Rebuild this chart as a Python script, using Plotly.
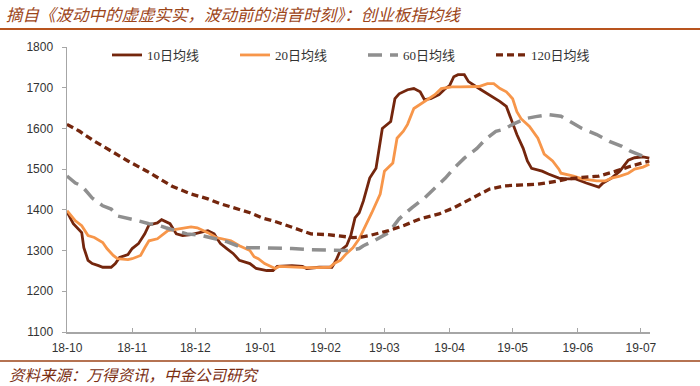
import plotly.graph_objects as go

# ---------------- data ----------------
d10 = ["2018-10-01","2018-10-04","2018-10-08","2018-10-09","2018-10-11","2018-10-13","2018-10-16","2018-10-18",
       "2018-10-22","2018-10-24","2018-10-26","2018-10-30","2018-11-01","2018-11-04","2018-11-07","2018-11-09",
       "2018-11-13","2018-11-15","2018-11-19","2018-11-22","2018-11-25","2018-11-29","2018-12-03","2018-12-07",
       "2018-12-10","2018-12-13","2018-12-16","2018-12-19","2018-12-22","2018-12-27","2018-12-30","2019-01-04",
       "2019-01-07","2019-01-09","2019-01-16","2019-01-21","2019-01-23","2019-01-29","2019-02-04","2019-02-06",
       "2019-02-08","2019-02-11","2019-02-13","2019-02-15","2019-02-17","2019-02-19","2019-02-22","2019-02-25",
       "2019-02-28","2019-03-04","2019-03-06","2019-03-08","2019-03-12","2019-03-15","2019-03-18","2019-03-20",
       "2019-03-23","2019-03-27","2019-03-30","2019-04-01","2019-04-03","2019-04-05","2019-04-08","2019-04-10",
       "2019-04-15","2019-04-20","2019-04-25","2019-04-28","2019-05-01","2019-05-03","2019-05-06","2019-05-08",
       "2019-05-10","2019-05-15","2019-05-18","2019-05-23","2019-05-27","2019-05-31","2019-06-05","2019-06-11",
       "2019-06-13","2019-06-17","2019-06-21","2019-06-25","2019-06-28","2019-07-02","2019-07-05"]
v10 = [1395,1366,1344,1307,1276,1268,1263,1259,
       1259,1268,1283,1290,1305,1317,1341,1363,
       1368,1376,1366,1341,1337,1339,1344,1349,
       1341,1317,1305,1293,1276,1268,1256,1251,
       1251,1261,1263,1261,1256,1259,1259,1276,
       1300,1312,1337,1380,1393,1422,1478,1502,
       1600,1617,1673,1685,1695,1698,1690,1671,
       1673,1683,1698,1705,1727,1732,1732,1715,
       1698,1683,1666,1654,1610,1585,1551,1520,
       1502,1495,1488,1478,1476,1476,1466,1456,
       1466,1478,1495,1522,1528,1530,1527]

d20 = ["2018-10-01","2018-10-05","2018-10-08","2018-10-11","2018-10-14","2018-10-18","2018-10-20","2018-10-23",
       "2018-10-25","2018-10-30","2018-11-01","2018-11-05","2018-11-07","2018-11-09","2018-11-13","2018-11-16",
       "2018-11-18","2018-11-24","2018-11-29","2018-12-02","2018-12-07","2018-12-11","2018-12-18","2018-12-22",
       "2018-12-27","2018-12-29","2018-12-31","2019-01-03","2019-01-08","2019-01-10","2019-01-16","2019-01-23",
       "2019-01-28","2019-02-03","2019-02-05","2019-02-08","2019-02-11","2019-02-14","2019-02-17","2019-02-19",
       "2019-02-23","2019-02-27","2019-03-01","2019-03-05","2019-03-07","2019-03-10","2019-03-12","2019-03-15",
       "2019-03-18","2019-03-21","2019-03-25","2019-03-28","2019-04-02","2019-04-06","2019-04-10","2019-04-15",
       "2019-04-19","2019-04-22","2019-04-25","2019-04-28","2019-05-01","2019-05-03","2019-05-05","2019-05-09",
       "2019-05-13","2019-05-16","2019-05-20","2019-05-23","2019-05-24","2019-05-30","2019-06-03","2019-06-10",
       "2019-06-14","2019-06-17","2019-06-21","2019-06-25","2019-06-28","2019-07-02","2019-07-05"]
v20 = [1398,1373,1361,1337,1332,1320,1305,1288,
       1280,1278,1280,1288,1307,1324,1329,1341,
       1349,1354,1358,1356,1344,1332,1324,1312,
       1300,1285,1280,1268,1256,1261,1259,1258,
       1258,1259,1268,1276,1293,1307,1329,1350,
       1393,1439,1495,1515,1576,1593,1610,1649,
       1659,1671,1683,1698,1702,1702,1702,1703,
       1710,1710,1698,1690,1673,1641,1624,1605,
       1576,1537,1520,1500,1490,1483,1476,1471,
       1471,1478,1483,1490,1500,1505,1512]

d60 = ["2018-10-01","2018-10-05","2018-10-08","2018-10-13","2018-10-18","2018-10-22","2018-10-25","2018-11-01",
       "2018-11-04","2018-11-09","2018-11-13","2018-11-17","2018-11-20","2018-11-27","2018-12-04","2018-12-10",
       "2018-12-16","2018-12-21","2018-12-26","2018-12-31","2019-01-09","2019-01-16","2019-01-25","2019-02-02",
       "2019-02-08","2019-02-12","2019-02-17","2019-02-19","2019-02-24","2019-03-03","2019-03-08","2019-03-14",
       "2019-03-20","2019-03-25","2019-03-30","2019-04-03","2019-04-08","2019-04-14","2019-04-18","2019-04-23",
       "2019-04-27","2019-05-01","2019-05-07","2019-05-12","2019-05-18","2019-05-24","2019-05-28","2019-06-03",
       "2019-06-10","2019-06-16","2019-06-22","2019-06-26","2019-07-02","2019-07-05"]
v60 = [1483,1466,1459,1429,1410,1402,1385,1378,
       1373,1366,1363,1356,1352,1341,1337,1329,
       1322,1312,1307,1307,1307,1305,1302,1302,
       1300,1300,1305,1312,1324,1344,1378,1405,
       1429,1454,1478,1502,1527,1551,1573,1593,
       1598,1610,1624,1629,1634,1630,1617,1600,
       1585,1568,1556,1544,1532,1529]

d120 = ["2018-10-01","2018-10-07","2018-10-13","2018-10-22","2018-10-30","2018-11-08","2018-11-16","2018-11-20",
        "2018-11-29","2018-12-07","2018-12-13","2018-12-21","2018-12-27","2019-01-02","2019-01-07","2019-01-14",
        "2019-01-20","2019-01-25","2019-02-02","2019-02-08","2019-02-14","2019-02-18","2019-02-22","2019-03-03",
        "2019-03-10","2019-03-18","2019-03-27","2019-04-03","2019-04-12","2019-04-20","2019-04-27","2019-05-05",
        "2019-05-13","2019-05-23","2019-05-27","2019-06-03","2019-06-11","2019-06-19","2019-06-26","2019-07-05"]
v120 = [1610,1593,1572,1544,1520,1495,1471,1458,
        1439,1427,1415,1402,1393,1380,1373,1361,
        1349,1341,1339,1335,1332,1333,1337,1349,
        1361,1378,1390,1405,1429,1451,1459,1460,
        1463,1471,1476,1480,1483,1495,1507,1520]

tick_dates = ["2018-10-01","2018-11-01","2018-12-01","2019-01-01","2019-02-01","2019-03-01",
              "2019-04-01","2019-05-01","2019-06-01","2019-07-01"]
tick_labels = ["18-10","18-11","18-12","19-01","19-02","19-03","19-04","19-05","19-06","19-07"]
y_ticks = [1100,1200,1300,1400,1500,1600,1700,1800]

names = ["10日均线", "20日均线", "60日均线", "120日均线"]
title_text = "摘自《波动中的虚虚实实，波动前的消音时刻》：创业板指均线"
source_text = "资料来源：万得资讯，中金公司研究"

# ---------------- figure ----------------
W, H = 700, 386
L, R, T, B = 67, 50, 47, 54
PW, PH = W - L - R, H - T - B

def px_x(x):
    return (x - L) / PW

def px_y(y):
    return (H - B - y) / PH

brown = "#74260D"
orange = "#F7964A"
gray = "#8F8F8F"

fig = go.Figure()
fig.add_trace(go.Scatter(x=d10, y=v10, name=names[0], mode="lines",
                         line=dict(color=brown, width=2.8)))
fig.add_trace(go.Scatter(x=d20, y=v20, name=names[1], mode="lines",
                         line=dict(color=orange, width=2.8)))
fig.add_trace(go.Scatter(x=d60, y=v60, name=names[2], mode="lines",
                         line=dict(color=gray, width=3.5, dash="14px,8px")))
fig.add_trace(go.Scatter(x=d120, y=v120, name=names[3], mode="lines",
                         line=dict(color=brown, width=3.3, dash="7px,4px")))

axis_font = dict(family="Arial, Liberation Sans, sans-serif", size=12, color="#333333")

fig.update_layout(
    width=W, height=H, autosize=False,
    margin=dict(l=L, r=R, t=T, b=B, pad=0),
    paper_bgcolor="white", plot_bgcolor="white",
    showlegend=True,
    legend=dict(orientation="h", x=px_x(107), xanchor="left", y=px_y(55), yanchor="middle",
                font=dict(family="Liberation Serif, Noto Sans CJK SC, serif", size=13, color="#333333"),
                bgcolor="rgba(0,0,0,0)", entrywidth=83, entrywidthmode="pixels",
                itemwidth=30, tracegroupgap=0),
    xaxis=dict(type="date", range=["2018-10-01", "2019-07-05 08:00"],
               tickmode="array", tickvals=tick_dates, ticktext=tick_labels,
               ticks="inside", ticklen=4, tickwidth=1, tickcolor="#A6A6A6",
               showline=True, linecolor="#A6A6A6", linewidth=1.5,
               showgrid=False, zeroline=False, tickfont=axis_font, ticklabelstandoff=4),
    yaxis=dict(range=[1100, 1800], tickmode="array", tickvals=y_ticks,
               ticks="outside", ticklen=4, tickwidth=1, tickcolor="#A6A6A6",
               showline=True, linecolor="#A6A6A6", linewidth=1.5,
               showgrid=False, zeroline=False, tickfont=axis_font, ticklabelstandoff=6),
)

# title
fig.add_annotation(text="<i>" + title_text + "</i>", xref="paper", yref="paper",
                   x=px_x(4), y=px_y(14), xanchor="left", yanchor="middle", showarrow=False,
                   font=dict(family="Noto Sans CJK SC, sans-serif", size=16.5, color="#9C4519"))
# source
fig.add_annotation(text="<i>" + source_text + "</i>", xref="paper", yref="paper",
                   x=px_x(7), y=px_y(374), xanchor="left", yanchor="middle", showarrow=False,
                   font=dict(family="Noto Sans CJK SC, sans-serif", size=15.5, color="#7A2E12"))
# rules
fig.add_shape(type="line", xref="paper", yref="paper", x0=px_x(0), x1=px_x(W),
              y0=px_y(29), y1=px_y(29), line=dict(color="#B8541E", width=2))
fig.add_shape(type="line", xref="paper", yref="paper", x0=px_x(0), x1=px_x(W),
              y0=px_y(361), y1=px_y(361), line=dict(color="#9C4519", width=1.5))

fig.write_html("out.html", config={"displayModeBar": False, "staticPlot": True},
               post_script="document.body.style.margin='0';document.body.style.padding='0';")
